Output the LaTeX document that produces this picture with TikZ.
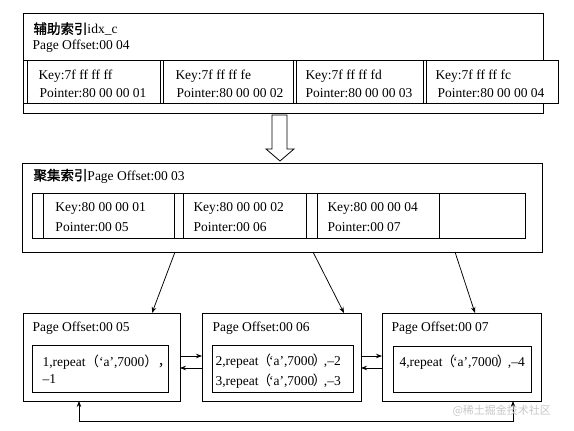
\documentclass[tikz,border=0pt]{standalone}
\usepackage{fontspec}
\setmainfont{Liberation Serif}
\newfontfamily\cjk{Noto Sans CJK SC}
\newfontfamily\cjkb{Noto Sans CJK SC}[FakeBold=1.2]
\usetikzlibrary{arrows.meta}
\newcommand{\myLp}{\hspace{-1pt}{\cjk （}\hspace{-2pt}}
\newcommand{\myRp}{\hspace{-1.5pt}{\cjk ）}\hspace{-2.5pt}}
\begin{document}
\begin{tikzpicture}[x=1pt,y=-1pt, line width=1pt,
  box/.style={draw, anchor=north west, inner sep=0pt, outer sep=0pt},
  txt/.style={anchor=west, inner sep=0pt, font=\fontsize{13.5}{15}\selectfont},
  link/.style={-{Stealth[length=6pt,width=4.5pt]}, line width=0.75pt}]
\useasboundingbox (0,0) rectangle (574,431);

% ---------- secondary index page ----------
\node[box, minimum width=520pt, minimum height=47pt] (idxhead) at (23,13) {};
\node[txt] (idxtitle) at (33,29) {{\cjkb 辅助索引}idx\_c};
\node[txt] (idxoff) at (32,46) {Page Offset:00 04};
\draw (23,60) rectangle (558,103);
\node[box, minimum width=133pt, minimum height=43pt] (k1) at (27,60) {};
\node[box, minimum width=130pt, minimum height=43pt] (k2) at (163,60) {};
\node[box, minimum width=127pt, minimum height=43pt] (k3) at (296,60) {};
\node[box, minimum width=132pt, minimum height=43pt] (k4) at (426,60) {};
\draw (23,103) -- (23,113) -- (543,113) -- (543,103);
\node[txt] (k1a) at (38,76) {Key:7f ff ff ff};
\node[txt] (k1b) at (39,93) {Pointer:80 00 00 01};
\node[txt] (k2a) at (175,76) {Key:7f ff ff fe};
\node[txt] (k2b) at (176,93) {Pointer:80 00 00 02};
\node[txt] (k3a) at (305,76) {Key:7f ff ff fd};
\node[txt] (k3b) at (305,93) {Pointer:80 00 00 03};
\node[txt] (k4a) at (435,76) {Key:7f ff ff fc};
\node[txt] (k4b) at (437,93) {Pointer:80 00 00 04};

% ---------- hollow arrow ----------
\draw[line width=0.8pt] (272,115) -- (287,115) -- (287,149) -- (294,149) -- (280,161)
  -- (266,149) -- (272,149) -- cycle;

% ---------- clustered index page ----------
\node[box, minimum width=520pt, minimum height=89pt] (clu) at (22,163) {};
\node[txt] (clutitle) at (33,176) {{\cjkb 聚集索引}Page Offset:00 03};
\draw (32,193) rectangle (525,238);
\node[box, minimum width=131pt, minimum height=45pt] (n1) at (43,193) {};
\node[box, minimum width=123pt, minimum height=45pt] (n2) at (183,193) {};
\node[box, minimum width=122pt, minimum height=45pt] (n3) at (317,193) {};
\node[box, minimum width=86pt, minimum height=45pt] (n4) at (439,193) {};
\node[txt] (n1a) at (55,208) {Key:80 00 00 01};
\node[txt] (n1b) at (55,227) {Pointer:00 05};
\node[txt] (n2a) at (193,208) {Key:80 00 00 02};
\node[txt] (n2b) at (193,227) {Pointer:00 06};
\node[txt] (n3a) at (327,208) {Key:80 00 00 04};
\node[txt] (n3b) at (327,227) {Pointer:00 07};

% ---------- data pages ----------
\node[box, minimum width=157pt, minimum height=88pt] (pA) at (23,313) {};
\node[box, minimum width=159pt, minimum height=88pt] (pB) at (202,313) {};
\node[box, minimum width=159pt, minimum height=88pt] (pC) at (382,313) {};
\node[box, minimum width=136pt, minimum height=47pt] (iA) at (32,345) {};
\node[box, minimum width=141pt, minimum height=47pt] (iB) at (212,345) {};
\node[box, minimum width=138pt, minimum height=46pt] (iC) at (393,346) {};
\node[txt] (tA) at (32,328) {Page Offset:00 05};
\node[txt] (tB) at (212,328) {Page Offset:00 06};
\node[txt] (tC) at (391,328) {Page Offset:00 07};
\node[txt] (rA1) at (42,362) {1,repeat{\cjk （}‘a’,7000{\cjk ），}};
\node[txt] (rA2) at (42,379) {–1};
\node[txt] (rB1) at (215,361) {2,repeat\myLp‘a’,7000\myRp,–2};
\node[txt] (rB2) at (215,381) {3,repeat\myLp‘a’,7000\myRp,–3};
\node[txt] (rC1) at (399,362) {4,repeat\myLp‘a’,7000\myRp,–4};

% ---------- connectors ----------
\draw[link] ([xshift=153pt]clu.south west) -- ([xshift=129pt]pA.north west);
\draw[link] ([xshift=291pt]clu.south west) -- ([xshift=142pt]pB.north west);
\draw[link] ([xshift=433pt]clu.south west) -- ([xshift=93pt]pC.north west);

\draw[link] ([yshift=-43pt]pA.north east) -- ([yshift=-43pt]pB.north west);
\draw[link] ([yshift=-55pt]pB.north west) -- ([yshift=-55pt]pA.north east);
\draw[link] ([yshift=-43pt]pB.north east) -- ([yshift=-43pt]pC.north west);
\draw[link] ([yshift=-55pt]pC.north west) -- ([yshift=-55pt]pB.north east);

\draw[{Stealth[length=6pt,width=4.5pt]}-{Stealth[length=6pt,width=4.5pt]}, line width=0.75pt]
  ([xshift=56pt]pA.south west) -- ++(0,-20pt) -| ([xshift=131pt]pC.south west);

% watermark
\node[anchor=west, inner sep=0pt, text=gray!45, font=\cjk\fontsize{11}{13}\selectfont] (wm) at (452,411) {@稀土掘金技术社区};
\end{tikzpicture}
\end{document}
